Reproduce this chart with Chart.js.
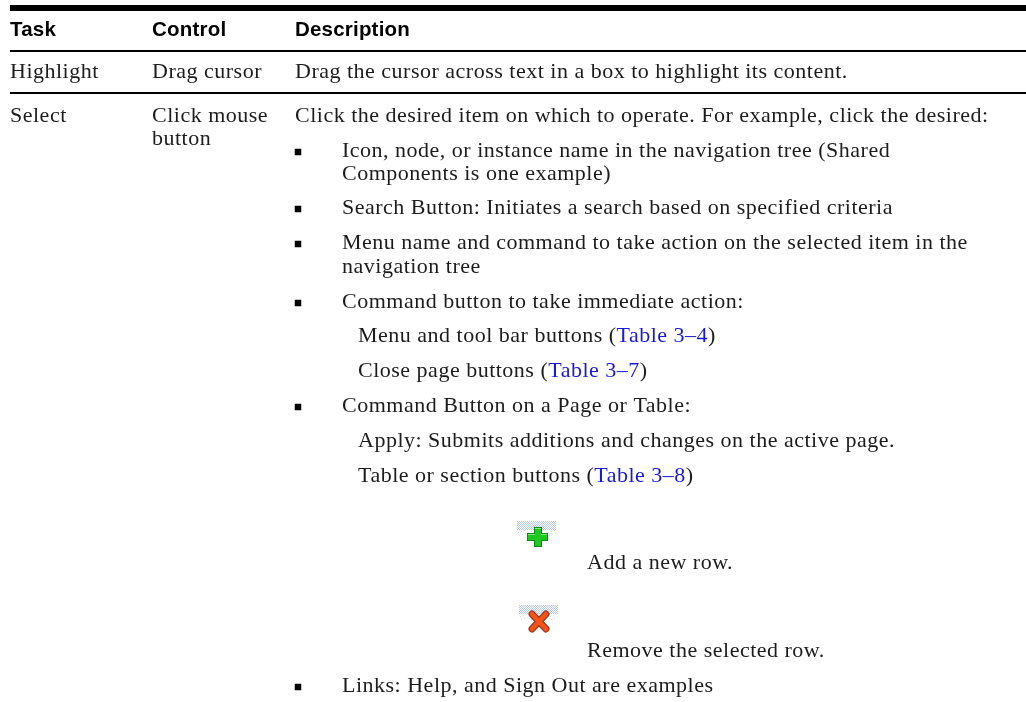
<!DOCTYPE html>
<html>
<head>
<meta charset="utf-8">
<title>Task table</title>
<script src="https://cdn.jsdelivr.net/npm/chart.js@4"></script>
<style>
  html, body { margin: 0; padding: 0; background: #fff; }
  canvas { display: block; }
</style>
</head>
<body>
<canvas id="table-chart" width="1026" height="702"></canvas>
<script>
// table content, [..] marks a blue cross reference
const headerLabels = ['Task', 'Control', 'Description'];
const taskLabels = ['Highlight', 'Select'];
const controlLabels = ['Drag cursor', 'Click mouse', 'button'];
const descriptionLines = [
  'Drag the cursor across text in a box to highlight its content.',
  'Click the desired item on which to operate. For example, click the desired:',
];
const bulletLines = [
  'Icon, node, or instance name in the navigation tree (Shared',
  'Components is one example)',
  'Search Button: Initiates a search based on specified criteria',
  'Menu name and command to take action on the selected item in the',
  'navigation tree',
  'Command button to take immediate action:',
  'Command Button on a Page or Table:',
  'Links: Help, and Sign Out are examples',
];
const subLines = [
  'Menu and tool bar buttons ([Table 3–4])',
  'Close page buttons ([Table 3–7])',
  'Apply: Submits additions and changes on the active page.',
  'Table or section buttons ([Table 3–8])',
];
const iconLines = ['Add a new row.', 'Remove the selected row.'];

// where things sit, in page pixels
const columnX = [10, 152, 295];
const bulletTextX = 342;
const subTextX = 358;
const iconTextX = 587;
const bulletX = 298;
const headerY = 36;
const taskY = [78, 122];
const controlY = [78, 122, 145];
const descriptionY = [78, 122];
const bulletLineY = [157, 180, 214, 249, 273, 308, 412, 692];
const subLineY = [342, 377, 447, 482];
const iconLineY = [569, 657];
const bulletY = [152, 209, 244, 303, 407, 687];
const ruleY = [8, 51, 93];
const ruleWidth = [6, 2, 2];
const ruleX = [10, 1026];

const SERIF = "22px 'Liberation Serif'";
const SERIF_SPACING = '0.5px';
const SANS_BOLD = "bold 20.5px 'Liberation Sans'";
const SANS_SPACING = '0.2px';
const TEXT_COLOR = '#1c1c1c';
const LINK_COLOR = '#1a1ad0';

// dithered toolbar patch behind the icons
function makeIcon(drawGlyph) {
  const c = document.createElement('canvas');
  c.width = 42;
  c.height = 30;
  const g = c.getContext('2d');
  for (let y = 0; y < 15; y++) {
    for (let x = 1; x < 40; x++) {
      if ((x + y) % 2 && (y < 9 || (x + y * 3) % 5 === 0)) {
        g.fillStyle = y < 9 ? '#b8c8f4' : '#d6e0fa';
        g.fillRect(x, y, 1, 1);
      }
    }
  }
  drawGlyph(g);
  return c;
}

const plusIcon = makeIcon(g => {
  g.fillStyle = '#0c8a12';
  g.fillRect(18, 6, 8, 20);
  g.fillRect(11, 12, 21, 8);
  g.fillStyle = '#1fc81f';
  g.fillRect(19, 7, 6, 18);
  g.fillRect(12, 13, 19, 6);
  g.fillStyle = '#7fe87f';
  g.fillRect(19, 7, 6, 1);
  g.fillRect(12, 13, 7, 1);
  g.fillRect(25, 13, 6, 1);
});

const crossIcon = makeIcon(g => {
  g.lineCap = 'round';
  g.strokeStyle = '#9c3a22';
  g.lineWidth = 7;
  g.beginPath();
  g.moveTo(14, 9); g.lineTo(28, 24);
  g.moveTo(28, 9); g.lineTo(14, 24);
  g.stroke();
  g.strokeStyle = '#f2541c';
  g.lineWidth = 4.5;
  g.beginPath();
  g.moveTo(14, 9); g.lineTo(28, 24);
  g.moveTo(28, 9); g.lineTo(14, 24);
  g.stroke();
});

// draws one line of text, switching colour on [..]
function drawLine(ctx, x, y, text, font, spacing, color) {
  ctx.font = font;
  ctx.letterSpacing = spacing;
  let cursor = x;
  text.split(/(\[[^\]]*\])/).forEach(part => {
    if (!part) return;
    const isLink = part[0] === '[';
    const s = isLink ? part.slice(1, -1) : part;
    ctx.fillStyle = isLink ? LINK_COLOR : color;
    ctx.fillText(s, cursor, y);
    cursor += ctx.measureText(s).width;
  });
}

const tableText = {
  id: 'tableText',
  afterDatasetsDraw(chart) {
    const { ctx, scales: { x, y } } = chart;
    const put = (px, py, text, font, spacing, color) =>
      drawLine(ctx, x.getPixelForValue(px), y.getPixelForValue(py), text, font, spacing, color);
    ctx.save();
    ctx.textBaseline = 'alphabetic';
    headerLabels.forEach((t, i) => put(columnX[i], headerY, t, SANS_BOLD, SANS_SPACING, '#000'));
    taskLabels.forEach((t, i) => put(columnX[0], taskY[i], t, SERIF, SERIF_SPACING, TEXT_COLOR));
    controlLabels.forEach((t, i) => put(columnX[1], controlY[i], t, SERIF, SERIF_SPACING, TEXT_COLOR));
    descriptionLines.forEach((t, i) => put(columnX[2], descriptionY[i], t, SERIF, SERIF_SPACING, TEXT_COLOR));
    bulletLines.forEach((t, i) => put(bulletTextX, bulletLineY[i], t, SERIF, SERIF_SPACING, TEXT_COLOR));
    subLines.forEach((t, i) => put(subTextX, subLineY[i], t, SERIF, SERIF_SPACING, TEXT_COLOR));
    iconLines.forEach((t, i) => put(iconTextX, iconLineY[i], t, SERIF, SERIF_SPACING, TEXT_COLOR));
    ctx.restore();
  },
};

const ruleSets = ruleY.map((ry, i) => ({
  type: 'line',
  data: ruleX.map(rx => ({ x: rx, y: ry })),
  borderColor: '#000',
  borderWidth: ruleWidth[i],
  pointRadius: 0,
  showLine: true,
}));

new Chart(document.getElementById('table-chart'), {
  type: 'scatter',
  data: {
    datasets: [
      ...ruleSets,
      {
        data: bulletY.map(by => ({ x: bulletX, y: by })),
        pointStyle: 'rect',
        pointRadius: 4.6,
        backgroundColor: '#000',
        borderWidth: 0,
      },
      {
        data: [{ x: 537, y: 536 }],
        pointStyle: plusIcon,
      },
      {
        data: [{ x: 539, y: 620 }],
        pointStyle: crossIcon,
      },
    ],
  },
  options: {
    responsive: false,
    animation: false,
    layout: { padding: 0, autoPadding: false },
    scales: {
      x: { type: 'linear', display: false, min: 0, max: 1026 },
      y: { type: 'linear', display: false, min: 0, max: 702, reverse: true },
    },
    plugins: {
      legend: { display: false },
      tooltip: { enabled: false },
    },
  },
  plugins: [tableText],
});
</script>
</body>
</html>
